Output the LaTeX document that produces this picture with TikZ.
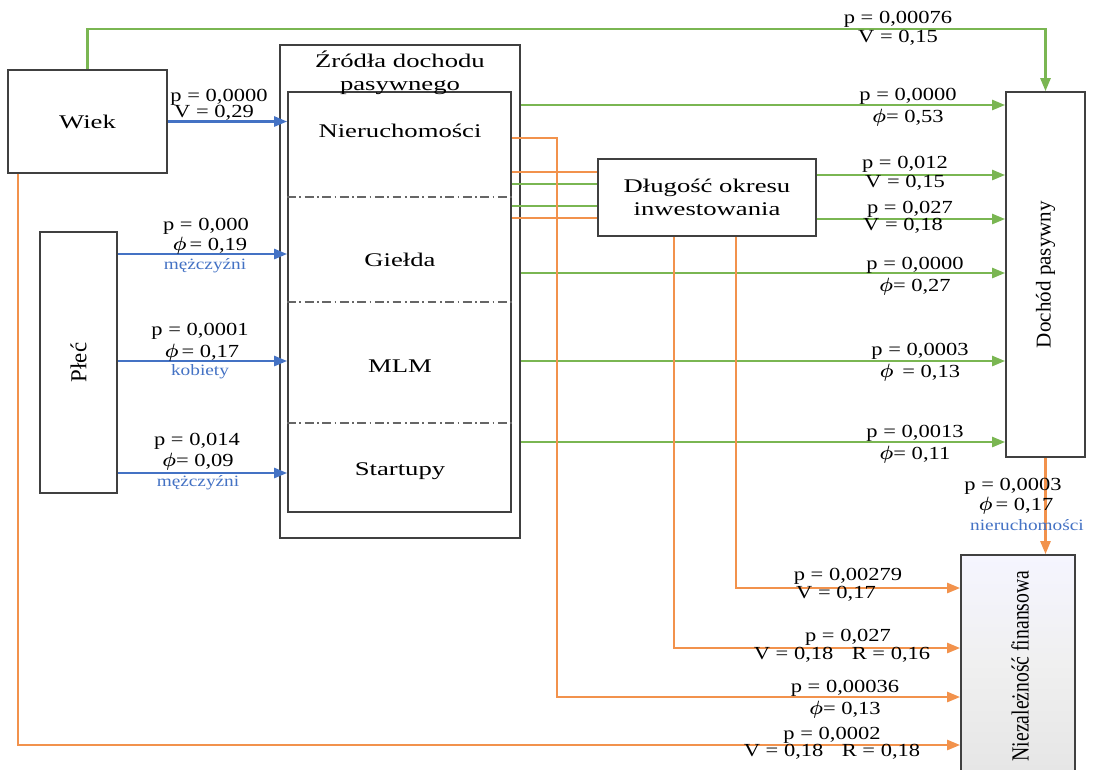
\documentclass[tikz,border=0pt]{standalone}
\usepackage{fontspec}
\usepackage{bm}
\setmainfont{Liberation Serif}
\newfontfamily\widefont[FakeStretch=1.38]{Liberation Serif}
\newfontfamily\labfont[FakeStretch=1.22]{Liberation Serif}
\newfontfamily\condfont[FakeStretch=0.8]{Liberation Serif}
\usetikzlibrary{arrows.meta}
\definecolor{cgreen}{RGB}{122,182,82}
\definecolor{corange}{RGB}{242,146,76}
\definecolor{cblue}{RGB}{68,114,196}
\definecolor{cedge}{RGB}{64,64,64}
\tikzset{
  box/.style={draw=cedge, line width=1pt, fill=white, inner sep=0pt, font=\widefont\fontsize{11}{14}\selectfont, align=center},
  rbox/.style={draw=cedge, line width=1pt, fill=white, inner sep=0pt},
  rtext/.style={inner sep=0pt, font=\fontsize{12}{14}\selectfont},
  tip/.style={-{Triangle[length=0.26cm,width=0.2cm]}},
  gl/.style={draw=cgreen, line width=1.4pt},
  ol/.style={draw=corange, line width=1.4pt},
  bl/.style={draw=cblue, line width=1.4pt},
  lab/.style={font=\labfont\fontsize{10.5}{12}\selectfont, inner sep=0pt},
  blab/.style={font=\labfont\fontsize{9}{10}\selectfont, text=cblue, inner sep=0pt},
  sep/.style={draw=cedge!80, line width=0.7pt, dash pattern=on 5pt off 2pt on 1pt off 2pt}
}
\newcommand{\ph}{$\bm{\phi}$}
\begin{document}
\begin{tikzpicture}[x=0.02cm, y=-0.02cm]
\useasboundingbox (0,0) rectangle (1095,769);

% boxes
\node[box, minimum width=3.18cm, minimum height=2.06cm] (wiek) at (87.5,121.5) {Wiek};
\node[rbox, minimum width=1.54cm, minimum height=5.22cm] (plec) at (78.5,362.5) {};
\node[rtext, rotate=90, font=\fontsize{13}{15}\selectfont] (pleclab) at (plec.center) {Płeć};
\node[box, minimum width=4.8cm, minimum height=9.86cm] (outer) at (400,291.5) {};
\node[box, minimum width=4.46cm, minimum height=8.4cm] (inner) at (399.5,302) {};
\node[box, draw=none, fill=none] (ztitle) at (400,73) {Źródła dochodu\\[-1pt]pasywnego};
\draw[sep] (inner.west |- 0,197) -- (inner.east |- 0,197);
\draw[sep] (inner.west |- 0,302) -- (inner.east |- 0,302);
\draw[sep] (inner.west |- 0,423) -- (inner.east |- 0,423);
\node[box, draw=none, fill=none] (nier) at (400,131) {Nieruchomości};
\node[box, draw=none, fill=none] (gield) at (400,260) {Giełda};
\node[box, draw=none, fill=none] (mlm) at (400,366) {MLM};
\node[box, draw=none, fill=none] (start) at (400,471) {Startupy};
\node[box, minimum width=4.36cm, minimum height=1.54cm] (dlug) at (707,197.5) {Długość okresu\\[-1pt]inwestowania};
\node[rbox, minimum width=1.58cm, minimum height=7.3cm] (doch) at (1045.5,274.5) {};
\node[rtext, rotate=90] (dochlab) at (doch.center) {Dochód pasywny};
\node[rbox, minimum width=2.28cm, minimum height=4.4cm, top color=white!96!blue, bottom color=black!10, middle color=white!94!black] (niez) at (1018,665) {};
\node[rtext, rotate=90, font=\condfont\fontsize{14}{16}\selectfont] (niezlab) at (1020,666) {Niezależność finansowa};

% green top connector
\draw[gl, tip] (wiek.north) -- ++(0,-40) -| (doch.north);
\node[lab] (t1) at (898,19) {p = 0,00076};
\node[lab] (t2) at (898,38) {V = 0,15};

% blue connectors
\draw[bl, tip] (wiek.east) -- (wiek.east -| inner.west);
\node[lab] (b1a) at (219,97) {p = 0,0000};
\node[lab] (b1b) at (214,113) {V = 0,29};
\draw[bl, tip] (plec.east |- 0,254) -- (inner.west |- 0,254);
\node[lab] (b2a) at (206,226) {p = 0,000};
\node[lab] (b2b) at (210,246) {\ph\,= 0,19};
\node[blab] (b2c) at (205,266) {mężczyźni};
\draw[bl, tip] (plec.east |- 0,361) -- (inner.west |- 0,361);
\node[lab] (b3a) at (200,331) {p = 0,0001};
\node[lab] (b3b) at (202,353) {\ph\,= 0,17};
\node[blab] (b3c) at (200,372) {kobiety};
\draw[bl, tip] (plec.east |- 0,473) -- (inner.west |- 0,473);
\node[lab] (b4a) at (197,441) {p = 0,014};
\node[lab] (b4b) at (198,462) {\ph= 0,09};
\node[blab] (b4c) at (198,483) {mężczyźni};

% green connectors to Dochod
\draw[gl, tip] (outer.east |- 0,105) -- (doch.west |- 0,105);
\node[lab] (g1a) at (908,96) {p = 0,0000};
\node[lab] (g1b) at (908,118) {\ph= 0,53};
\draw[gl, tip] (dlug.east |- 0,175) -- (doch.west |- 0,175);
\node[lab] (g2a) at (905,164) {p = 0,012};
\node[lab] (g2b) at (905,183) {V = 0,15};
\draw[gl, tip] (dlug.east |- 0,219) -- (doch.west |- 0,219);
\node[lab] (g3a) at (910,209) {p = 0,027};
\node[lab] (g3b) at (903,226) {V = 0,18};
\draw[gl, tip] (outer.east |- 0,273) -- (doch.west |- 0,273);
\node[lab] (g4a) at (915,265) {p = 0,0000};
\node[lab] (g4b) at (915,287) {\ph= 0,27};
\draw[gl, tip] (outer.east |- 0,361) -- (doch.west |- 0,361);
\node[lab] (g5a) at (920,351) {p = 0,0003};
\node[lab] (g5b) at (920,373) {\ph\ \,= 0,13};
\draw[gl, tip] (outer.east |- 0,442) -- (doch.west |- 0,442);
\node[lab] (g6a) at (915,433) {p = 0,0013};
\node[lab] (g6b) at (915,455) {\ph= 0,11};

% lines between sources and Dlugosc
\draw[ol] (inner.east |- 0,172) -- (dlug.west |- 0,172);
\draw[gl] (inner.east |- 0,184) -- (dlug.west |- 0,184);
\draw[gl] (inner.east |- 0,206) -- (dlug.west |- 0,206);
\draw[ol] (inner.east |- 0,218) -- (dlug.west |- 0,218);

% orange connectors to Niezaleznosc
\draw[ol, tip] (inner.east |- 0,138) -| (557,697) -- (niez.west |- 0,697);
\node[lab] (o3a) at (845,688) {p = 0,00036};
\node[lab] (o3b) at (845,710) {\ph= 0,13};
\draw[ol, tip] (dlug.south -| 736,0) |- (niez.west |- 0,588);
\node[lab] (o1a) at (848,576) {p = 0,00279};
\node[lab] (o1b) at (836,594) {V = 0,17};
\draw[ol, tip] (dlug.south -| 674,0) |- (niez.west |- 0,648);
\node[lab] (o2a) at (848,637) {p = 0,027};
\node[lab] (o2b) at (842,655) {V = 0,18\quad R = 0,16};
\draw[ol, tip] (wiek.south -| 18,0) |- (niez.west |- 0,745);
\node[lab] (o4a) at (832,735) {p = 0,0002};
\node[lab] (o4b) at (832,752) {V = 0,18\quad R = 0,18};
\draw[ol, tip] (doch.south) -- (doch.south |- niez.north);
\node[lab] (o5a) at (1013,486) {p = 0,0003};
\node[lab] (o5b) at (1016,506) {\ph\,= 0,17};
\node[blab] (o5c) at (1027,525) {nieruchomości};
\end{tikzpicture}
\end{document}
